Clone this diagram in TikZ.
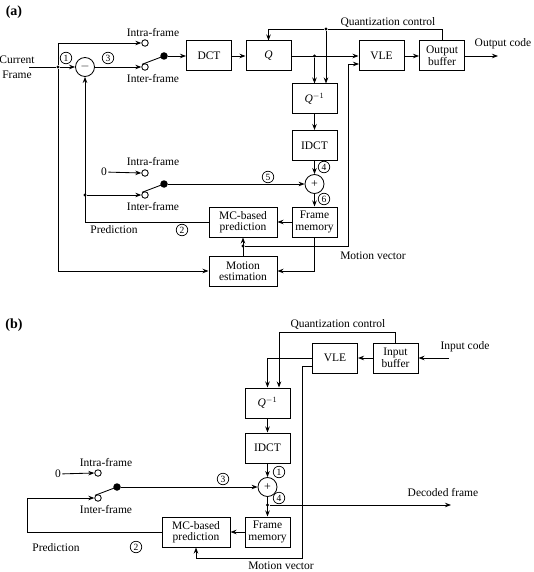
\documentclass[tikz,border=0pt]{standalone}
\usepackage{fontspec}
\setmainfont{Liberation Serif}
\usetikzlibrary{arrows.meta,calc}
\begin{document}
\begin{tikzpicture}[x=1pt,y=-1pt,
 font=\fontsize{11.5}{11.5}\selectfont,
 line width=0.85pt,
 >={Stealth[length=6pt,width=4.5pt]},
 blk/.style={draw, minimum width=45pt, minimum height=30pt, align=center, inner sep=0pt, line width=1pt},
 wblk/.style={blk, minimum width=68pt},
 sumc/.style={draw, circle, minimum size=19pt, inner sep=0pt, font=\fontsize{12}{12}\selectfont},
 term/.style={draw, circle, minimum size=6.5pt, inner sep=0pt, fill=white},
 sw/.style={circle, fill, minimum size=7.5pt, inner sep=0pt},
 jn/.style={circle, fill, minimum size=3.2pt, inner sep=0pt},
 num/.style={draw, circle, minimum size=11.5pt, inner sep=0pt, line width=0.7pt, font=\fontsize{9.5}{9.5}\selectfont},
 lbl/.style={inner sep=1pt, align=center},
 ttl/.style={inner sep=1pt, font=\bfseries\fontsize{14}{14}\selectfont}]
\useasboundingbox (0,0) rectangle (533,572);

% ================= (a) =================
\node[ttl] (la) at (14,12) {(a)};
\node[lbl, font=\fontsize{11.5}{15}\selectfont] (cur) at (17,67) {Current\\Frame};
\coordinate (cin) at (29,67);
\node[jn] (j1) at (58,67) {};
\node[sumc] (minus) at (85,67) {$-$};
\node[term] (ia) at (145,43) {};
\node[term] (ea) at (145,67) {};
\node[sw] (sa) at (164,56) {};
\node[lbl] (tia) at (153,33) {Intra-frame};
\node[lbl] (tea) at (153,79) {Inter-frame};
\node[num] (n1a) at (66,58) {1};
\node[num] (n3a) at (108,58) {3};

\node[blk] (dct) at (209,56) {DCT};
\node[blk] (q) at (268.5,56) {\textit{Q}};
\node[blk] (qi) at (314.5,99) {\textit{Q}$^{-1}$};
\node[blk] (idct) at (314.5,145.5) {IDCT};
\node[sumc] (plus) at (314.5,184) {+};
\node[blk] (fm) at (314.5,222) {Frame\\memory};
\node[wblk] (mc) at (243,222) {MC-based\\prediction};
\node[wblk] (me) at (243,271) {Motion\\estimation};
\node[blk] (vle) at (381.5,56) {VLE};
\node[blk] (ob) at (442,56) {Output\\buffer};
\node[lbl] (toc) at (503,44) {Output code};
\coordinate (oc) at (498,56);
\node[lbl] (tqc) at (388,22) {Quantization control};
\node[jn] (jqc) at (326,29) {};
\node[jn] (jq) at (314.5,56) {};
\node[num] (n4a) at (324,167) {4};
\node[num] (n6a) at (324,199) {6};
\node[num] (n5a) at (268,177) {5};

\node[lbl] (zero) at (104,172) {0};
\node[term] (ib) at (145,173) {};
\node[term] (eb) at (145,195) {};
\node[sw] (sb) at (164,184) {};
\node[lbl] (tib) at (153,162) {Intra-frame};
\node[lbl] (teb) at (153,207) {Inter-frame};
\node[jn] (jp) at (85,195) {};
\coordinate (pc) at (85,222);
\node[lbl] (tpa) at (114,230) {Prediction};
\node[num] (n2a) at (182,230) {2};

\node[jn] (jmv) at (243,246) {};
\coordinate (mv1) at (348,246);
\coordinate (vlein) at (359,64);
\node[lbl] (tmva) at (373,256) {Motion vector};

\draw (cin) -- (j1);
\draw[->] (j1) -- (minus.west);
\draw[->] (j1) |- (ia.west);
\draw[->] (j1) |- (me.west);
\draw[->] (minus.east) -- (ea.west);
\draw ([xshift=-3pt,yshift=-1pt]ea.north) -- (sa.center);
\draw[->] (sa) -- (dct.west);
\draw[->] (dct) -- (q);
\draw[->] (q) -- (vle);
\draw[->] (jq) -- (qi.north);
\draw (ob.north) |- (jqc);
\draw[->] (jqc) -| (q.north);
\draw[->] (jqc) -- (jqc |- qi.north);
\draw[->] (vle) -- (ob);
\draw[->] (ob.east) -- (oc);
\draw[->] (qi) -- (idct);
\draw[->] (idct) -- (plus);
\draw[->] (plus) -- (fm);
\draw[->] (fm) -- (mc);
\draw[->] (fm.south) |- (me.east);
\draw[->] (me.north) -- (mc.south);
\draw[->] (jmv) -- (mv1) |- (vlein);
\draw[->] (zero) -- (ib.west);
\draw ([xshift=-3pt,yshift=-1pt]eb.north) -- (sb.center);
\draw[->] (sb) -- (plus.west);
\draw[->] (mc.west) -- (pc) -- (minus.south);
\draw[->] (jp) -- (eb.west);

% ================= (b) =================
\node[ttl] (lb) at (14,325) {(b)};
\node[lbl] (tqcb) at (338,324) {Quantization control};
\node[blk] (ib2) at (395.5,358) {Input\\buffer};
\node[blk] (vle2) at (335,358) {VLE};
\node[lbl] (tic) at (465,347) {Input code};
\coordinate (cin2) at (449,358);
\coordinate (qcb) at (279,332);
\coordinate (vlemv) at (312,366);
\coordinate (mvb) at (302,558);
\node[blk] (qi2) at (267.5,403) {\textit{Q}$^{-1}$};
\node[blk] (idct2) at (267.5,448) {IDCT};
\node[sumc] (plus2) at (267.5,487) {+};
\node[blk] (fm2) at (267.5,532) {Frame\\memory};
\node[wblk] (mc2) at (196,532) {MC-based\\prediction};
\node[num] (n1b) at (279,472) {1};
\node[num] (n4b) at (279,498) {4};
\node[jn] (jd) at (267.5,505) {};
\coordinate (dec) at (451,505);
\node[lbl] (tdec) at (443,493) {Decoded frame};
\node[lbl] (tmvb) at (281,566) {Motion vector};

\node[lbl] (zero2) at (58,474) {0};
\node[term] (ib3) at (98,473) {};
\node[term] (eb3) at (98,498) {};
\node[sw] (sb2) at (117,487) {};
\node[lbl] (tib3) at (106,463) {Intra-frame};
\node[lbl] (teb3) at (106,510) {Inter-frame};
\coordinate (pb) at (27,532);
\node[lbl] (tpb) at (56,548) {Prediction};
\node[num] (n2b) at (136,547) {2};
\node[num] (n3b) at (223,479) {3};

\draw[->] (cin2) -- (ib2.east);
\draw[->] (ib2) -- (vle2);
\draw[->] (ib2.north) |- (qcb) -- (qcb |- qi2.north);
\draw[->] (vle2.west) -| (qi2.north);
\draw[->] (vlemv) -| (mvb) -| (mc2.south);
\draw[->] (qi2) -- (idct2);
\draw[->] (idct2) -- (plus2);
\draw[->] (plus2) -- (fm2);
\draw[->] (jd) -- (dec);
\draw[->] (fm2) -- (mc2);
\draw[->] (zero2) -- (ib3.west);
\draw ([xshift=-3pt,yshift=-1pt]eb3.north) -- (sb2.center);
\draw[->] (sb2) -- (plus2.west);
\draw[->] (mc2.west) -- (pb) |- (eb3.west);
\end{tikzpicture}
\end{document}
